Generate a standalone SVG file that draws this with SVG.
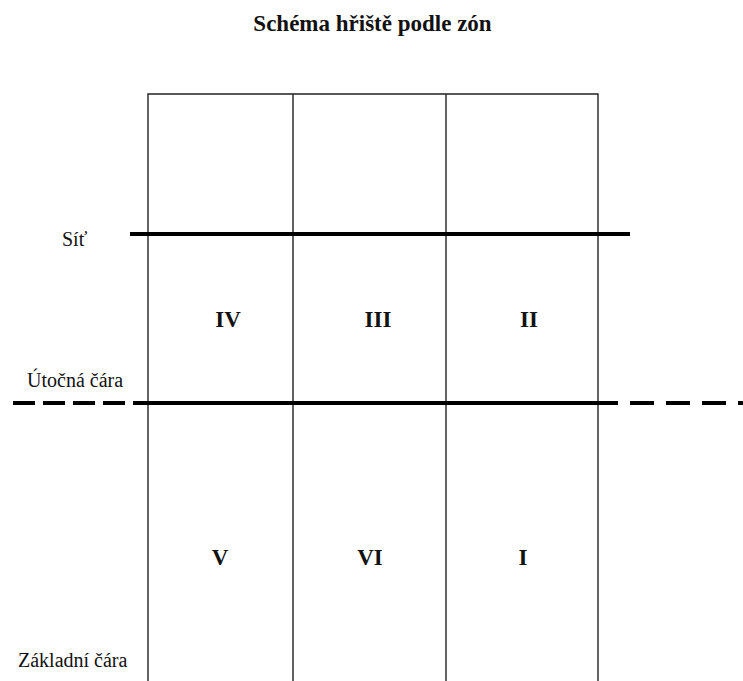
<svg xmlns="http://www.w3.org/2000/svg" width="743" height="681" viewBox="0 0 743 681">
<style>
text{font-family:"Liberation Serif","Times New Roman",serif;fill:#111}
.b{font-weight:bold;text-anchor:middle;font-size:23px}
.l{font-size:20px}
.grid{stroke:#222;stroke-width:1.4;fill:none}
.thick{stroke:#000;stroke-width:4;fill:none}
</style>
<rect width="743" height="681" fill="#fff"/>
<text x="372.5" y="31" font-weight="bold" font-size="23" text-anchor="middle">Schéma hřiště podle zón</text>
<g id="court">
<path class="grid" d="M148 690V94H598V690M293 94V690M446 94V690"/>
</g>
<g id="connectors">
<line class="thick" x1="130" y1="234" x2="630" y2="234"/>
<line class="thick" x1="133" y1="403" x2="618" y2="403"/>
<line class="thick" x1="13" y1="403" x2="125" y2="403" stroke-dasharray="22 8"/>
<line class="thick" x1="630" y1="403" x2="743" y2="403" stroke-dasharray="24 12"/>
</g>
<g id="labels">
<text class="l" x="62" y="246">Síť</text>
<text class="l" x="27" y="387">Útočná čára</text>
<text class="l" x="18" y="667">Základní čára</text>
</g>
<g id="zone-IV"><text class="b" x="228" y="327">IV</text></g>
<g id="zone-III"><text class="b" x="378" y="327">III</text></g>
<g id="zone-II"><text class="b" x="529" y="327">II</text></g>
<g id="zone-V"><text class="b" x="220" y="565">V</text></g>
<g id="zone-VI"><text class="b" x="370" y="565">VI</text></g>
<g id="zone-I"><text class="b" x="523" y="565">I</text></g>
</svg>
